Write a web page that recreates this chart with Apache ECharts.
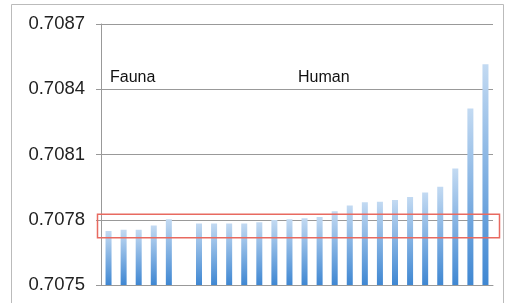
<!DOCTYPE html>
<html>
<head>
<meta charset="utf-8">
<script src="https://cdn.jsdelivr.net/npm/echarts@6/dist/echarts.min.js"></script>
<style>
  html, body { margin: 0; padding: 0; background: #fff; }
  #chart { width: 509px; height: 303px; }
</style>
</head>
<body>
<div id="chart"></div>
<script>
// 87Sr/86Sr values, sorted per group
var faunaValues = [0.707748, 0.707754, 0.707754, 0.707773, 0.707802];
var humanValues = [0.707783, 0.707783, 0.707783, 0.707783, 0.707788, 0.707799,
                   0.707802, 0.707807, 0.707813, 0.707839, 0.707865, 0.70788,
                   0.707883, 0.707891, 0.707905, 0.707925, 0.707952, 0.708036,
                   0.708312, 0.708515];
var groupLabels = ['Fauna', 'Human'];
var yTicks = [0.7075, 0.7078, 0.7081, 0.7084, 0.7087];
// red box (value range)
var boxRange = [0.707717, 0.707825];

var base = yTicks[0];
var step = yTicks[1] - yTicks[0];
// axis in units of 1e-4 above base, so ticks start at 0
function toAxis(v) { return Math.round((v - base) * 1e7) / 1e3; }

var cats = [];
var data = [];
faunaValues.forEach(function (v, i) { cats.push('f' + i); data.push(toAxis(v)); });
cats.push('gap'); data.push('-');
humanValues.forEach(function (v, i) { cats.push('h' + i); data.push(toAxis(v)); });

var gridLeft = 101, gridRight = 16, gridTop = 24, gridBottom = 18;
var ff = 'Liberation Sans, Arial, sans-serif';

var myChart = echarts.init(document.getElementById('chart'));

var option = {
    animation: false,
    textStyle: { fontFamily: ff },
    grid: { left: gridLeft, right: gridRight, top: gridTop, bottom: gridBottom },
    xAxis: {
        type: 'category',
        data: cats,
        axisLine: { show: true, lineStyle: { color: '#999', width: 1 } },
        axisTick: { show: false },
        axisLabel: { show: false },
        splitLine: { show: false }
    },
    yAxis: {
        type: 'value',
        min: 0,
        max: toAxis(yTicks[yTicks.length - 1]),
        interval: Math.round(step * 1e4),
        axisLine: { show: true, lineStyle: { color: '#999', width: 1 } },
        axisTick: { show: true, length: 5, lineStyle: { color: '#999' } },
        axisLabel: {
            color: '#222',
            fontSize: 18.5,
            margin: 16,
            formatter: function (v) { return (base + v / 1e4).toFixed(4); }
        },
        splitLine: { lineStyle: { color: '#999', width: 1 } }
    },
    series: [{
        type: 'bar',
        barWidth: 6,
        data: data,
        itemStyle: {
            color: new echarts.graphic.LinearGradient(0, 0, 0, 1, [
                { offset: 0, color: '#c3daf2' },
                { offset: 1, color: '#3f87d2' }
            ])
        }
    }]
};
myChart.setOption(option);

// annotations: outer frame, group labels, red box
var yTop = myChart.convertToPixel({ yAxisIndex: 0 }, toAxis(boxRange[1]));
var yBot = myChart.convertToPixel({ yAxisIndex: 0 }, toAxis(boxRange[0]));

myChart.setOption({
    graphic: [
        {
            type: 'rect',
            shape: { x: 11.5, y: 4.5, width: 492, height: 310 },
            style: { fill: 'none', stroke: '#bbb', lineWidth: 1 },
            z: 0
        },
        {
            type: 'text', left: 110, top: 70,
            style: { text: groupLabels[0], fontSize: 16, fill: '#111', fontFamily: ff }
        },
        {
            type: 'text', left: 298, top: 70,
            style: { text: groupLabels[1], fontSize: 16, fill: '#111', fontFamily: ff }
        },
        {
            type: 'rect',
            shape: { x: 97.5, y: yTop, width: 402, height: yBot - yTop },
            style: { fill: 'none', stroke: '#e86a60', lineWidth: 1.5 },
            z: 100
        }
    ]
});
</script>
</body>
</html>
